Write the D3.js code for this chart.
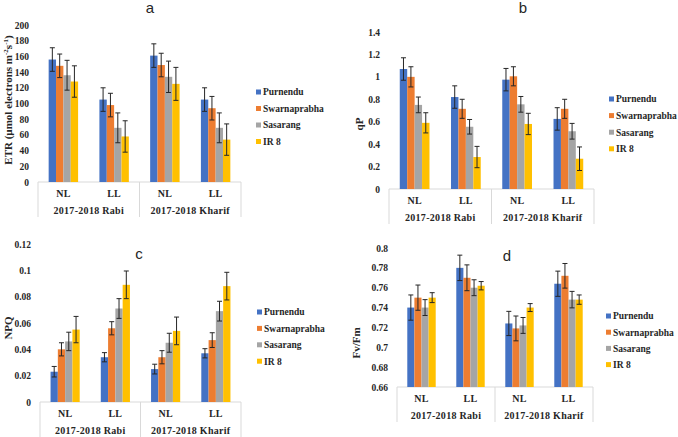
<!DOCTYPE html>
<html>
<head>
<meta charset="utf-8">
<script src="https://cdn.jsdelivr.net/npm/d3@7"></script>
<style>
body { margin: 0; background: #fff; }
svg text { font-family: "Liberation Serif", "Times New Roman", serif; font-weight: bold; fill: #262626; }
svg text.ptitle { font-family: "Liberation Sans", Arial, sans-serif; font-weight: normal; font-size: 15px; }
</style>
</head>
<body>
<svg id="chart" width="678" height="437"></svg>
<script>
// categories
var seasons = ["2017-2018 Rabi", "2017-2018 Kharif"];
var lights = ["NL", "LL"];
var varieties = ["Purnendu", "Swarnaprabha", "Sasarang", "IR 8"];
var colors = ["#4472C4", "#ED7D31", "#A5A5A5", "#FFC000"];

// one row per variety, columns: Rabi NL, Rabi LL, Kharif NL, Kharif LL
var etr_mean = [[156, 105, 161, 105], [148, 98, 149, 94], [136, 69, 134, 69], [128, 58, 125, 54]];
var etr_err = [[15, 15, 15, 15], [15, 15, 15, 15], [19, 19, 20, 19], [20, 20, 21, 20]];
var etr_ticks = [0, 20, 40, 60, 80, 100, 120, 140, 160, 180, 200];

var qp_mean = [[1.07, 0.82, 0.975, 0.625], [1.0, 0.715, 1.005, 0.715], [0.75, 0.555, 0.755, 0.515], [0.59, 0.285, 0.58, 0.27]];
var qp_err = [[0.1, 0.1, 0.1, 0.1], [0.09, 0.085, 0.085, 0.085], [0.07, 0.065, 0.07, 0.07], [0.09, 0.095, 0.095, 0.105]];
var qp_ticks = [0, 0.2, 0.4, 0.6, 0.8, 1, 1.2, 1.4];

var npq_mean = [[0.023, 0.034, 0.025, 0.037], [0.04, 0.056, 0.034, 0.047], [0.046, 0.071, 0.045, 0.069], [0.055, 0.089, 0.054, 0.088]];
var npq_err = [[0.004, 0.0035, 0.0037, 0.0035], [0.005, 0.005, 0.005, 0.0056], [0.007, 0.0075, 0.0072, 0.0075], [0.01, 0.0105, 0.0105, 0.0105]];
var npq_ticks = [0, 0.02, 0.04, 0.06, 0.08, 0.1, 0.12];

var fvfm_mean = [[0.740, 0.780, 0.724, 0.764], [0.750, 0.770, 0.719, 0.772], [0.740, 0.760, 0.722, 0.748], [0.750, 0.762, 0.740, 0.748]];
var fvfm_err = [[0.0127, 0.0128, 0.0122, 0.0127], [0.0127, 0.013, 0.0125, 0.0124], [0.008, 0.008, 0.008, 0.0083], [0.005, 0.0042, 0.004, 0.0047]];
var fvfm_ticks = [0.66, 0.68, 0.7, 0.72, 0.74, 0.76, 0.78, 0.8];

var svg = d3.select("#chart");

function drawPanel(p) {
	var g = svg.append("g");
	var cols = [0, 1, 2, 3];

	var y = d3.scaleLinear()
		.domain([p.ticks[0], p.ticks[p.ticks.length - 1]])
		.range([p.bottom, p.top]);

	var x0 = d3.scaleBand()
		.domain(cols)
		.range([p.left, p.right])
		.paddingInner(0.42)
		.paddingOuter(0.21);

	var x1 = d3.scaleBand()
		.domain(d3.range(varieties.length))
		.range([0, x0.bandwidth()]);

	// y axis labels only, no line
	var yAxis = d3.axisLeft(y)
		.tickValues(p.ticks)
		.tickFormat(function(d) { return String(+d.toFixed(4)); })
		.tickSize(0)
		.tickPadding(9);
	g.append("g")
		.attr("transform", "translate(" + p.left + ",0)")
		.call(yAxis)
		.call(function(a) { a.select(".domain").remove(); })
		.selectAll("text")
		.style("font-family", "Liberation Serif")
		.style("font-weight", "bold")
		.style("font-size", "9.5px")
		.style("fill", "#262626");

	// category box lines
	var boxH = 35;
	var mid = (p.left + p.right) / 2;
	g.append("line")
		.attr("x1", p.left).attr("x2", p.right)
		.attr("y1", p.bottom).attr("y2", p.bottom)
		.style("stroke", "#d9d9d9");
	[p.left, mid, p.right].forEach(function(xv) {
		g.append("line")
			.attr("x1", xv).attr("x2", xv)
			.attr("y1", p.bottom).attr("y2", p.bottom + boxH)
			.style("stroke", "#d9d9d9");
	});

	// bars
	varieties.forEach(function(v, vi) {
		g.append("g").selectAll("rect")
			.data(cols)
			.enter().append("rect")
			.attr("x", function(c) { return x0(c) + x1(vi); })
			.attr("y", function(c) { return y(p.mean[vi][c]); })
			.attr("width", x1.bandwidth())
			.attr("height", function(c) { return p.bottom - y(p.mean[vi][c]); })
			.style("fill", colors[vi]);

		// error bars
		var eb = g.append("g").selectAll("g")
			.data(cols)
			.enter().append("g")
			.attr("transform", function(c) { return "translate(" + (x0(c) + x1(vi) + x1.bandwidth() / 2) + ",0)"; });
		eb.append("line")
			.attr("y1", function(c) { return y(p.mean[vi][c] - p.err[vi][c]); })
			.attr("y2", function(c) { return y(p.mean[vi][c] + p.err[vi][c]); })
			.style("stroke", "#262626");
		eb.append("line")
			.attr("x1", -2.5).attr("x2", 2.5)
			.attr("y1", function(c) { return y(p.mean[vi][c] + p.err[vi][c]); })
			.attr("y2", function(c) { return y(p.mean[vi][c] + p.err[vi][c]); })
			.style("stroke", "#262626");
		eb.append("line")
			.attr("x1", -2.5).attr("x2", 2.5)
			.attr("y1", function(c) { return y(p.mean[vi][c] - p.err[vi][c]); })
			.attr("y2", function(c) { return y(p.mean[vi][c] - p.err[vi][c]); })
			.style("stroke", "#262626");
	});

	// light labels
	g.selectAll(".light")
		.data(cols)
		.enter().append("text")
		.attr("class", "light")
		.attr("x", function(c) { return x0(c) + x0.bandwidth() / 2; })
		.attr("y", p.bottom + 11.5)
		.attr("dy", ".35em")
		.attr("text-anchor", "middle")
		.style("font-size", "10px")
		.style("letter-spacing", "0.3px")
		.text(function(c) { return lights[c % 2]; });

	// season labels
	g.selectAll(".season")
		.data(seasons)
		.enter().append("text")
		.attr("class", "season")
		.attr("x", function(d, i) { return i == 0 ? (p.left + mid) / 2 : (mid + p.right) / 2; })
		.attr("y", p.bottom + 28.5)
		.attr("dy", ".35em")
		.attr("text-anchor", "middle")
		.style("font-size", "10px")
		.style("letter-spacing", "0.3px")
		.text(function(d) { return d; });

	// panel letter
	g.append("text")
		.attr("class", "ptitle")
		.attr("x", p.titleX)
		.attr("y", p.titleY)
		.attr("text-anchor", "middle")
		.attr("dy", ".35em")
		.text(p.title);

	// y title
	var yt = g.append("text")
		.attr("transform", "translate(" + p.ylabX + "," + p.ylabY + ") rotate(-90)")
		.attr("text-anchor", "middle")
		.attr("dy", ".35em")
		.style("font-size", "11px");
	p.ylab.forEach(function(part) {
		var ts = yt.append("tspan").text(part[0]);
		if (part[1]) {
			ts.attr("baseline-shift", "super").style("font-size", "7px");
		}
	});

	// legend
	var leg = g.selectAll(".legend")
		.data(varieties)
		.enter().append("g")
		.attr("class", "legend")
		.attr("transform", function(d, i) {
			return "translate(" + p.legX + "," + (p.legY + i * p.legStep) + ")";
		});
	leg.append("rect")
		.attr("x", 0).attr("y", -2.5)
		.attr("width", 5).attr("height", 5)
		.style("fill", function(d, i) { return colors[i]; });
	leg.append("text")
		.attr("x", 7)
		.attr("dy", ".35em")
		.style("font-size", "9.5px")
		.text(function(d) { return d; });
}

drawPanel({
	left: 38, right: 241, top: 25, bottom: 182,
	ticks: etr_ticks, mean: etr_mean, err: etr_err,
	title: "a", titleX: 150, titleY: 8,
	ylab: [["ETR (\u00b5mol electrons m"], ["-2", true], ["s"], ["-1", true], [")"]],
	ylabX: 8, ylabY: 100,
	legX: 256, legY: 92, legStep: 16.5
});

drawPanel({
	left: 389, right: 594, top: 32, bottom: 189,
	ticks: qp_ticks, mean: qp_mean, err: qp_err,
	title: "b", titleX: 523, titleY: 8,
	ylab: [["qP"]],
	ylabX: 359, ylabY: 124,
	legX: 609, legY: 99, legStep: 16.6
});

drawPanel({
	left: 40, right: 241, top: 244, bottom: 402,
	ticks: npq_ticks, mean: npq_mean, err: npq_err,
	title: "c", titleX: 139, titleY: 254,
	ylab: [["NPQ"]],
	ylabX: 8, ylabY: 328,
	legX: 257, legY: 312, legStep: 16.4
});

drawPanel({
	left: 397, right: 593, top: 248, bottom: 387,
	ticks: fvfm_ticks, mean: fvfm_mean, err: fvfm_err,
	title: "d", titleX: 507, titleY: 256,
	ylab: [["Fv/Fm"]],
	ylabX: 356, ylabY: 343,
	legX: 606, legY: 316, legStep: 16.2
});
</script>
</body>
</html>
